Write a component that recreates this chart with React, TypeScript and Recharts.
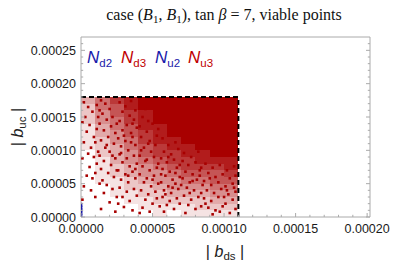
import { ScatterChart, Scatter, XAxis, YAxis, ReferenceLine, ReferenceArea } from 'recharts';

// all values in units of 1e-6
const xTickValues = [0, 10, 20, 30, 40, 50, 60, 70, 80, 90, 100, 110, 120, 130, 140, 150, 160, 170, 180, 190, 200];
const yTickValues = [0, 10, 20, 30, 40, 50, 60, 70, 80, 90, 100, 110, 120, 130, 140, 150, 160, 170, 180, 190, 200, 210, 220, 230, 240, 250, 260];
const xMax = 202;
const yMax = 270;

// viable region bounds
const boxX = 110;
const boxY = 180;

// point density, cells of 10 x 10, top row = 170..180, columns x = 0..110
const densityRows = [
  '35789999999',
  '25689999999',
  '24678999999',
  '24578999999',
  '13568899999',
  '13467899999',
  '12457889999',
  '12356788999',
  '02346778899',
  '01345677888',
  '01234567778',
  '01234456667',
  '01123445566',
  '00122344455',
  '00112233344',
  '00011222233',
  '00001111222',
  '00000101111',
];

// N_u3 points (scattered part)
const redPts: [number, number][] = [
  [2, 172], [5, 165], [3, 150], [8, 158], [1, 142], [6, 138], [4, 128], [9, 120], [2, 112], [7, 104],
  [5, 95], [1, 88], [9, 90], [6, 75], [4, 62], [8, 58], [2, 46], [7, 40], [1, 26], [10, 30],
  [11, 168], [12, 150], [11, 132], [10, 112], [12, 98], [11, 80], [10, 66],
  [14, 175], [17, 170], [20, 162], [15, 155], [22, 150], [18, 146], [13, 140], [21, 136], [16, 130],
  [24, 126], [19, 120], [14, 115], [23, 110], [17, 104], [20, 98], [13, 92], [24, 88], [16, 84],
  [21, 78], [14, 72], [19, 66], [23, 60], [15, 55], [18, 48], [22, 42], [16, 36], [25, 30], [20, 22],
  [14, 12], [24, 8], [13, 50], [25, 70], [22, 92], [18, 108], [25, 140], [13, 160],
  [27, 172], [31, 166], [35, 174], [29, 158], [34, 152], [38, 160], [27, 144], [32, 138], [37, 146],
  [29, 130], [35, 126], [39, 134], [26, 118], [31, 114], [36, 120], [28, 106], [33, 100], [38, 108],
  [27, 94], [32, 88], [37, 92], [29, 82], [34, 76], [39, 80], [26, 70], [31, 64], [36, 68], [28, 56],
  [33, 52], [38, 58], [27, 44], [32, 38], [37, 42], [29, 30], [34, 24], [39, 32], [30, 15], [36, 10],
  [26, 20], [33, 62], [38, 72], [28, 96], [35, 112], [30, 122], [36, 140],
  [41, 170], [45, 162], [49, 176], [43, 150], [47, 144], [52, 156], [41, 136], [46, 128], [50, 140],
  [54, 132], [42, 120], [48, 114], [53, 122], [44, 104], [49, 98], [52, 108], [41, 92], [46, 86],
  [51, 90], [54, 80], [43, 76], [48, 70], [53, 74], [41, 64], [46, 58], [51, 62], [44, 52], [49, 46],
  [54, 50], [42, 40], [47, 34], [52, 38], [45, 26], [50, 20], [43, 14], [53, 28], [48, 8], [41, 6],
  [55, 16], [45, 84], [50, 56], [42, 100], [47, 110],
  [57, 118], [61, 108], [66, 112], [58, 98], [63, 94], [68, 102], [56, 88], [60, 82], [65, 86], [69, 78],
  [57, 72], [62, 68], [67, 74], [59, 62], [64, 56], [69, 60], [56, 52], [61, 46], [66, 50], [58, 40],
  [63, 36], [68, 42], [57, 30], [62, 24], [67, 28], [60, 18], [65, 12], [58, 8], [69, 20], [56, 64],
  [64, 44], [59, 34], [66, 66], [61, 90],
  [72, 96], [77, 90], [82, 98], [71, 84], [75, 78], [80, 82], [84, 74], [73, 68], [78, 64], [83, 70],
  [71, 58], [76, 52], [81, 56], [85, 48], [74, 44], [79, 40], [84, 36], [72, 32], [77, 26], [82, 30],
  [75, 18], [80, 12], [73, 6], [84, 16], [78, 54], [70, 48], [83, 62], [76, 36],
  [87, 80], [92, 74], [97, 78], [102, 70], [107, 76], [89, 66], [94, 60], [99, 64], [104, 58], [108, 62],
  [86, 54], [91, 48], [96, 52], [101, 46], [106, 50], [88, 40], [93, 36], [98, 42], [103, 34], [108, 38],
  [86, 28], [91, 24], [96, 30], [101, 20], [106, 26], [89, 14], [94, 10], [99, 16], [104, 6], [108, 12],
  [92, 4], [87, 20], [97, 8], [102, 40], [107, 44], [90, 58], [100, 30],
];

// N_d2 points, along x = 0
const bluePts: [number, number][] = [[0, 2], [0, 6], [0, 10], [0, 14], [0, 18]];

const RED = '#a80000';
const BLUE = '#1a1aaa';
const FRAME = '#aaaaaa';
const E = 1e-6;

const redData = redPts.map(([x, y]) => ({ x: x * E, y: y * E }));
const blueData = bluePts.map(([x, y]) => ({ x: x * E + 0.3 * E, y: y * E }));

const cells: { x1: number; x2: number; y1: number; y2: number; d: number }[] = [];
densityRows.forEach((row, i) => {
  const yLow = (densityRows.length - 1 - i) * 10;
  row.split('').forEach((c, j) => {
    const d = Number(c);
    if (d > 0) cells.push({ x1: j * 10 * E, x2: (j + 1) * 10 * E, y1: yLow * E, y2: (yLow + 10) * E, d });
  });
});

const fmt = (v: number) => v.toFixed(5);

const FrameTick = (props: any) => {
  const { x, y, payload, side } = props;
  const v = Math.round(payload.value / E);
  const major = v % 50 === 0;
  const len = major ? 4 : 2.2;
  const font = { fontFamily: 'Liberation Sans, Arial, sans-serif', fontSize: 12.5, fill: '#1a1a1a' };
  if (side === 'bottom') {
    return (
      <g>
        <line x1={x} y1={y} x2={x} y2={y - len} stroke={FRAME} />
        {major && <text x={x} y={y + 16} textAnchor="middle" {...font}>{fmt(payload.value)}</text>}
      </g>
    );
  }
  if (side === 'top') {
    return <line x1={x} y1={y} x2={x} y2={y + len} stroke={FRAME} />;
  }
  if (side === 'left') {
    return (
      <g>
        <line x1={x} y1={y} x2={x + len} y2={y} stroke={FRAME} />
        {major && <text x={x - 5} y={y + 4.5} textAnchor="end" {...font}>{fmt(payload.value)}</text>}
      </g>
    );
  }
  return <line x1={x} y1={y} x2={x - len} y2={y} stroke={FRAME} />;
};

const RedDot = (p: any) => <rect x={p.cx - 1.3} y={p.cy - 1.3} width={2.6} height={2.6} fill={RED} />;
const BlueDot = (p: any) => <rect x={p.cx - 0.9} y={p.cy - 2.2} width={1.8} height={4.4} fill={BLUE} />;

const xTicks = xTickValues.map((v) => v * E);
const yTicks = yTickValues.map((v) => v * E);
const xDomain = [0, xMax * E];
const yDomain = [0, yMax * E];

const sans = 'Liberation Sans, Arial, sans-serif';

const App = () => {
  return (
    <div style={{ position: 'absolute', left: 0, top: 0, width: 399, height: 268, background: '#fff' }}>
      <ScatterChart width={399} height={268} margin={{ top: 32, right: 24, bottom: 21, left: 10 }}>
        <XAxis
          type="number"
          dataKey="x"
          domain={xDomain}
          ticks={xTicks}
          interval={0}
          allowDataOverflow
          height={30}
          stroke={FRAME}
          tickLine={false}
          tickSize={0}
          tickMargin={0}
          tick={(p: any) => <FrameTick {...p} side="bottom" />}
        />
        <XAxis
          xAxisId="top"
          orientation="top"
          type="number"
          domain={xDomain}
          ticks={xTicks}
          interval={0}
          allowDataOverflow
          height={5}
          stroke={FRAME}
          tickLine={false}
          tickSize={0}
          tickMargin={0}
          tick={(p: any) => <FrameTick {...p} side="top" />}
        />
        <YAxis
          type="number"
          dataKey="y"
          domain={yDomain}
          ticks={yTicks}
          interval={0}
          allowDataOverflow
          width={71}
          stroke={FRAME}
          tickLine={false}
          tickSize={0}
          tickMargin={0}
          tick={(p: any) => <FrameTick {...p} side="left" />}
        />
        <YAxis
          yAxisId="right"
          orientation="right"
          type="number"
          domain={yDomain}
          ticks={yTicks}
          interval={0}
          allowDataOverflow
          width={5}
          stroke={FRAME}
          tickLine={false}
          tickSize={0}
          tickMargin={0}
          tick={(p: any) => <FrameTick {...p} side="right" />}
        />
        {cells.map((c, i) => (
          <ReferenceArea
            key={i}
            x1={c.x1}
            x2={c.x2}
            y1={c.y1}
            y2={c.y2}
            shape={(p: any) => (
              <rect
                x={p.x}
                y={p.y}
                width={p.width}
                height={p.height}
                fill={RED}
                fillOpacity={c.d / 9}
                shapeRendering="crispEdges"
              />
            )}
          />
        ))}
        <Scatter data={redData} shape={RedDot} isAnimationActive={false} />
        <Scatter data={blueData} shape={BlueDot} isAnimationActive={false} />
        <ReferenceLine
          segment={[{ x: 0, y: boxY * E }, { x: boxX * E, y: boxY * E }]}
          stroke="#000"
          strokeWidth={2}
          strokeDasharray="5 3"
        />
        <ReferenceLine
          segment={[{ x: boxX * E, y: 0 }, { x: boxX * E, y: boxY * E }]}
          stroke="#000"
          strokeWidth={2}
          strokeDasharray="5 3"
        />
      </ScatterChart>
      <svg width={399} height={268} style={{ position: 'absolute', left: 0, top: 0, pointerEvents: 'none' }}>
        <text x={224} y={20} textAnchor="middle" fontFamily="Liberation Serif, serif" fontSize={16} fill="#111">
          case (<tspan fontStyle="italic">B</tspan>
          <tspan fontSize={11} dy={3}>1</tspan>
          <tspan dy={-3}>, </tspan>
          <tspan fontStyle="italic">B</tspan>
          <tspan fontSize={11} dy={3}>1</tspan>
          <tspan dy={-3}>), tan </tspan>
          <tspan fontStyle="italic">β</tspan> = 7, viable points
        </text>
        <g fontFamily={sans}>
          <text x={87} y={63} fill={BLUE} fontSize={17}>
            <tspan fontStyle="italic">N</tspan>
            <tspan fontSize={11.5} dy={3.5}>d2</tspan>
          </text>
          <text x={121} y={63} fill="#c00000" fontSize={17}>
            <tspan fontStyle="italic">N</tspan>
            <tspan fontSize={11.5} dy={3.5}>d3</tspan>
          </text>
          <text x={155} y={63} fill={BLUE} fontSize={17}>
            <tspan fontStyle="italic">N</tspan>
            <tspan fontSize={11.5} dy={3.5}>u2</tspan>
          </text>
          <text x={188} y={63} fill="#c00000" fontSize={17}>
            <tspan fontStyle="italic">N</tspan>
            <tspan fontSize={11.5} dy={3.5}>u3</tspan>
          </text>
        </g>
        <text x={225} y={257} textAnchor="middle" fontFamily={sans} fontSize={16} fill="#222">
          | <tspan fontStyle="italic">b</tspan>
          <tspan fontSize={11.5} dy={3}>ds</tspan>
          <tspan dy={-3}> |</tspan>
        </text>
        <text
          x={0}
          y={0}
          transform="translate(23,127) rotate(-90)"
          textAnchor="middle"
          fontFamily={sans}
          fontSize={16}
          fill="#222"
        >
          | <tspan fontStyle="italic">b</tspan>
          <tspan fontSize={11.5} dy={3}>uc</tspan>
          <tspan dy={-3}> |</tspan>
        </text>
      </svg>
    </div>
  );
};

export default App;
